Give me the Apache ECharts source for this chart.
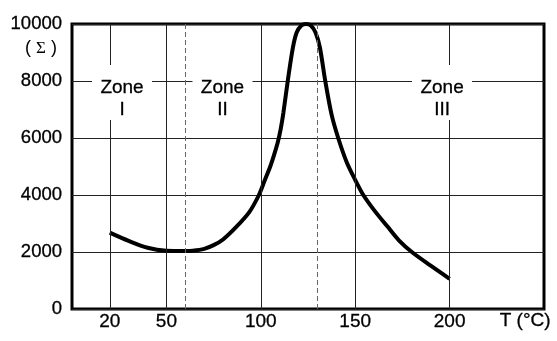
<!DOCTYPE html>
<html>
<head>
<meta charset="utf-8">
<script src="https://cdn.jsdelivr.net/npm/echarts@6/dist/echarts.min.js"></script>
<style>
  html, body { margin: 0; padding: 0; background: #fff; }
  #chart { width: 557px; height: 341px; }
</style>
</head>
<body>
<div id="chart"></div>
<script>
// Temperature (°C) ticks that carry a label and a vertical grid line
const tempTicks = [20, 50, 100, 150, 200];
// Zone boundaries (dashed)
const zoneBounds = [60, 130];
// Curve: temperature vs. Σ
const curveT     = [20,   30,   40,   50,   60,   64,   70,   75,   80,   87,   94,   99,   102,  105,  107,  109,  110.5, 112,  114.4, 117,  119,  121.5, 124,   126.5, 129,  131.3, 134,  137.5, 141,  145.5, 150,  154.3, 160,  167,  173,  180,  190,  200];
const curveSigma = [2680, 2390, 2150, 2045, 2035, 2045, 2110, 2240, 2440, 2880, 3410, 4000, 4500, 5000, 5400, 5850, 6300,  6900, 8060,  9175, 9700, 9950,  10000, 9950,  9700, 9175,  8060, 6820,  6000, 5150,  4530, 4000,  3470, 2900, 2420, 2000, 1520, 1060];
// Zone labels, centred at (temperature, Σ)
const zoneNames = ['Zone\nI', 'Zone\nII', 'Zone\nIII'];
const zoneT     = [26.5, 79.7, 196];
const zoneSigma = [7600, 7600, 7600];

const FONT = '"Liberation Sans", Arial, Helvetica, sans-serif';
const INK = { color: '#000', textBorderColor: '#000', textBorderWidth: 0.3 };

const chart = echarts.init(document.getElementById('chart'), null, { renderer: 'canvas' });

chart.setOption({
  animation: false,
  backgroundColor: '#fff',
  grid: {
    left: 72, right: 13, top: 24, bottom: 32,
    show: true, borderColor: '#000', borderWidth: 3, backgroundColor: 'transparent'
  },
  xAxis: {
    type: 'value', min: 0, max: 250, interval: 10,
    axisLine: { show: false }, axisTick: { show: false }, splitLine: { show: false },
    axisLabel: Object.assign({
      fontFamily: FONT, fontSize: 19, margin: 3,
      formatter: v => tempTicks.includes(v) ? String(v) : ''
    }, INK)
  },
  yAxis: {
    type: 'value', min: 0, max: 10000, interval: 2000,
    axisLine: { show: false }, axisTick: { show: false },
    splitLine: { show: true, lineStyle: { color: '#222', width: 1 } },
    axisLabel: Object.assign({
      fontFamily: FONT, fontSize: 18.5, margin: 10,
      padding: [0, 0, 8, 0],
      formatter: v => String(v)
    }, INK)
  },
  series: [
    {
      // vertical grid lines and zone boundaries
      type: 'line', data: [], z: 1, silent: true,
      markLine: {
        silent: true, symbol: 'none', animation: false,
        label: { show: false },
        data: tempTicks.map(t => ({ xAxis: t, lineStyle: { color: '#222', width: 1, type: 'solid' } }))
          .concat(zoneBounds.map(t => ({ xAxis: t, lineStyle: { color: '#666', width: 1, type: [5, 3] } })))
      }
    },
    {
      type: 'line', z: 3, silent: true,
      data: curveT.map((t, i) => [t, curveSigma[i]]),
      smooth: 0.3, showSymbol: false,
      lineStyle: { color: '#000', width: 4 }
    }
  ]
});

// Zone captions and axis titles, placed from the axis scale
const toPx = v => chart.convertToPixel({ gridIndex: 0 }, v);
const origin = toPx([0, 0]);
const sigmaRow = toPx([0, 9150]);
const unitCol = toPx([240, 0]);

const graphics = [];
zoneT.forEach((t, i) => {
  const p = toPx([t, zoneSigma[i]]);
  graphics.push({
    type: 'rect', z: 50, silent: true,
    shape: { x: p[0] - 30, y: p[1] - 27.5, width: 60, height: 55 },
    style: { fill: '#fff' }
  });
  graphics.push({
    type: 'text', z: 51, silent: true,
    x: p[0], y: p[1] + 6,
    style: {
      text: zoneNames[i], fill: '#000', stroke: '#000', lineWidth: 0.3,
      fontFamily: FONT, fontSize: 19, lineHeight: 22,
      align: 'center', verticalAlign: 'middle'
    }
  });
});
graphics.push({
  type: 'text', z: 51, silent: true,
  x: origin[0] - 31, y: sigmaRow[1],
  style: {
    text: '{p|( }{s|Σ}{p| )}',
    rich: {
      p: { fontFamily: FONT, fontSize: 18, fill: '#000' },
      s: { fontFamily: '"Liberation Serif", "DejaVu Serif", serif', fontSize: 17, fill: '#000' }
    },
    align: 'center', verticalAlign: 'middle'
  }
});
graphics.push({
  type: 'text', z: 51, silent: true,
  x: unitCol[0], y: origin[1] + 12,
  style: {
    text: 'T (°C)', fill: '#000', stroke: '#000', lineWidth: 0.3,
    fontFamily: FONT, fontSize: 19,
    align: 'center', verticalAlign: 'middle'
  }
});
chart.setOption({ graphic: graphics });
</script>
</body>
</html>
